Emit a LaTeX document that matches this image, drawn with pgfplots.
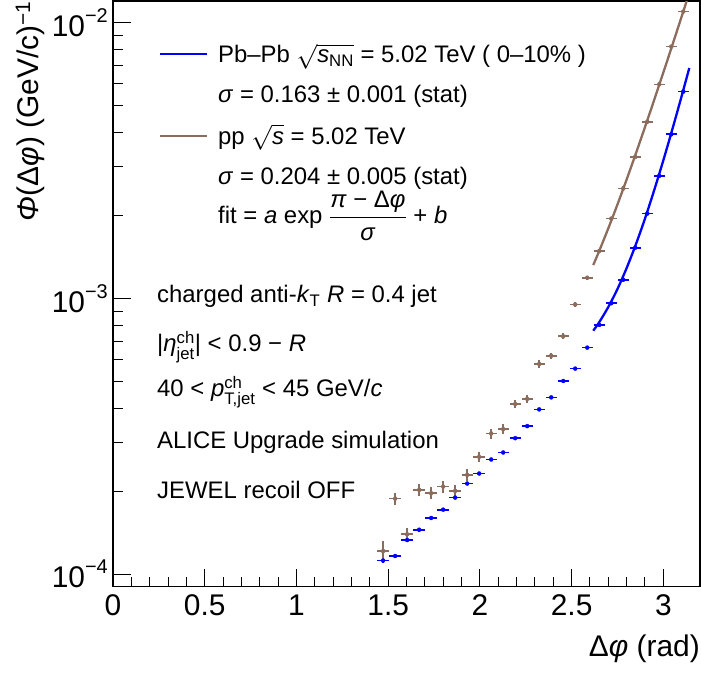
\documentclass[border=0pt]{standalone}
\usepackage{fontspec}
\setmainfont{Liberation Sans}
\usepackage{amsmath}
\usepackage{pgfplots}
\usepackage{pgfplotstable}
\pgfplotsset{compat=1.18}
\definecolor{ppbrown}{RGB}{140,108,92}
\definecolor{pbblue}{RGB}{0,0,255}
\newcommand\legfont{\fontsize{24}{28}\selectfont}
\newcommand\tickfont{\fontsize{30}{32}\selectfont}
\newcommand\dec[1]{10\raisebox{14bp}{\fontsize{20}{20}\selectfont #1}}

\pgfplotstableread{
x y ey
1.4726 1.12e-4 0.018
1.5381 1.163e-4 0.018
1.6035 1.329e-4 0.015
1.6690 1.449e-4 0.015
1.7344 1.598e-4 0.013
1.7999 1.713e-4 0.013
1.8653 1.895e-4 0.013
1.9308 2.131e-4 0.013
1.9962 2.317e-4 0.013
2.0617 2.605e-4 0.012
2.1271 2.762e-4 0.012
2.1926 3.113e-4 0.012
2.2580 3.443e-4 0.012
2.3235 3.959e-4 0.012
2.3889 4.377e-4 0.012
2.4544 5.019e-4 0.012
2.5198 5.566e-4 0.012
2.5853 6.633e-4 0.012
2.6507 8.02e-4 0.013
2.7162 9.61e-4 0.013
2.7816 1.169e-3 0.013
2.8471 1.528e-3 0.013
2.9125 2.032e-3 0.013
2.9780 2.786e-3 0.013
3.0434 3.94e-3 0.013
3.1089 5.63e-3 0.013
}\pbpb

\pgfplotstableread{
x y ey
1.4726 1.212e-4 0.09
1.5381 1.879e-4 0.05
1.6035 1.394e-4 0.058
1.6690 2.021e-4 0.05
1.7344 1.965e-4 0.05
1.7999 2.078e-4 0.05
1.8653 2.004e-4 0.05
1.9308 2.291e-4 0.05
1.9962 2.664e-4 0.042
2.0617 3.237e-4 0.042
2.1271 3.357e-4 0.042
2.1926 4.14e-4 0.034
2.2580 4.32e-4 0.034
2.3235 5.787e-4 0.03
2.3889 6.2e-4 0.025
2.4544 7.29e-4 0.025
2.5198 9.51e-4 0.02
2.5853 1.189e-3 0.018
2.6507 1.486e-3 0.017
2.7162 1.949e-3 0.017
2.7816 2.506e-3 0.017
2.8471 3.264e-3 0.017
2.9125 4.377e-3 0.017
2.9780 5.98e-3 0.017
3.0434 8.2e-3 0.017
3.1089 1.099e-2 0.017
}\pp

\pgfplotstableread{
x y
2.618 7.64e-4
2.65 8.19e-4
2.70 9.31e-4
2.75 1.082e-3
2.80 1.289e-3
2.85 1.569e-3
2.90 1.949e-3
2.95 2.468e-3
3.00 3.170e-3
3.05 4.126e-3
3.10 5.426e-3
3.1416 6.855e-3
}\pbfit

\pgfplotstableread{
x y
2.618 1.322e-3
2.65 1.484e-3
2.70 1.796e-3
2.75 2.193e-3
2.80 2.701e-3
2.85 3.353e-3
2.90 4.185e-3
2.95 5.245e-3
3.00 6.599e-3
3.05 8.332e-3
3.10 1.0544e-2
3.1416 1.2848e-2
}\ppfit

\begin{document}
\begin{tikzpicture}[x=1bp,y=1bp]
\path[use as bounding box] (-113,-90.3) rectangle (588,586.7);
\begin{axis}[
  at={(0,0)}, anchor=south west,
  scale only axis, width=587bp, height=585.7bp,
  xmin=0, xmax=3.2, ymin=9e-5, ymax=0.012, ymode=log,
  axis line style={line width=1.3bp},
  tick style={black, line width=1bp},
  tick align=inside, xtick pos=bottom, ytick pos=left,
  xtick={0,0.5,1,1.5,2,2.5,3},
  xticklabels={0,0.5,1,1.5,2,2.5,3},
  minor x tick num=4,
  ytick={1e-4,1e-3,1e-2},
  yticklabels={\dec{−4},\dec{−3},\dec{−2}},
  minor ytick={2e-4,3e-4,4e-4,5e-4,6e-4,7e-4,8e-4,9e-4,2e-3,3e-3,4e-3,5e-3,6e-3,7e-3,8e-3,9e-3},
  major tick length=18bp, minor tick length=10bp,
  xticklabel style={font=\tickfont, inner sep=0pt, anchor=north, yshift=-8bp},
  yticklabel style={font=\tickfont, inner sep=0pt, anchor=east, xshift=-5bp},
]
\addplot[pbblue, only marks, mark=none,
  error bars/.cd, x dir=both, x fixed=0.031, y dir=both, y explicit relative,
  error mark=none, error bar style={line width=1.7bp, pbblue}]
  table[x=x, y=y, y error=ey] {\pbpb};
\addplot[ppbrown, only marks, mark=none,
  error bars/.cd, x dir=both, x fixed=0.031, y dir=both, y explicit relative,
  error mark=none, error bar style={line width=1.7bp, ppbrown}]
  table[x=x, y=y, y error=ey] {\pp};
\addplot[pbblue, line width=2.3bp, smooth, mark=none] table[x=x, y=y] {\pbfit};
\addplot[ppbrown, line width=2.3bp, smooth, mark=none] table[x=x, y=y] {\ppfit};
\end{axis}

% legend
\draw[pbblue, line width=2.3bp] (47,532.4) -- (94,532.4);
\draw[ppbrown, line width=2.3bp] (47,450.7) -- (94,450.7);
\begin{scope}[every node/.style={anchor=base west, inner sep=0pt, font=\legfont}]
\node at (105,523.7) {Pb–Pb $\sqrt{\textit{s}_{\text{NN}}}$ = 5.02 TeV ( 0–10\% )};
\node at (105,483.7) {\textit{σ} = 0.163 ± 0.001 (stat)};
\node at (105,441.7) {pp $\sqrt{\textit{s}}$ = 5.02 TeV};
\node at (105,401.7) {\textit{σ} = 0.204 ± 0.005 (stat)};
\node at (105,362.7) {fit = \textit{a} exp $\dfrac{\text{\textit{π} − Δ\textit{φ}}}{\text{\textit{σ}}}$ + \textit{b}};
\node at (44,283.7) {charged anti-\textit{k}\textsubscript{T} \textit{R} = 0.4 jet};
\node at (44,234.7) {|$\textit{η}^{\text{ch}}_{\text{jet}}$| < 0.9 − \textit{R}};
\node at (44,189.7) {40 < $\textit{p}^{\text{ch}}_{\text{T,jet}}$ < 45 GeV/\textit{c}};
\node at (44,138.4) {ALICE Upgrade simulation};
\node at (44,88.4) {JEWEL recoil OFF};
\end{scope}
% axis titles
\node[rotate=90, anchor=base east, inner sep=0pt, font=\tickfont] at (-74,585.7) {\textit{Φ}(Δ\textit{φ}) (GeV/c)\textsuperscript{−1}};
\node[anchor=base east, inner sep=0pt, font=\tickfont] at (587,-70) {Δ\textit{φ} (rad)};
\end{tikzpicture}
\end{document}
